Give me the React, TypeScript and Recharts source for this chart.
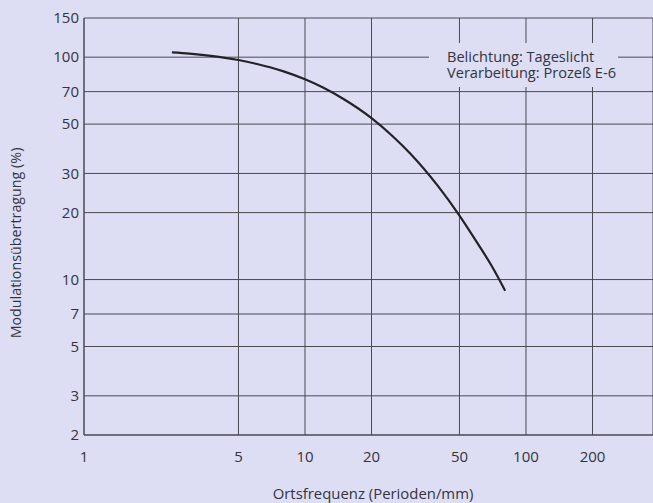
import React from 'react';
import { LineChart, Line, XAxis, YAxis, CartesianGrid } from 'recharts';

const frequencies = [2.5, 3, 4, 5, 6, 8, 10, 12, 15, 20, 25, 30, 40, 50, 60, 70, 80.5];
const modulation = [105, 103.7, 100.6, 97.1, 93.4, 86.3, 79.5, 73.2, 64.7, 53.2, 44.0, 36.8, 26.3, 19.4, 14.7, 11.5, 8.9];

const xTicks = [1, 5, 10, 20, 50, 100, 200];
const yTicks = [2, 3, 5, 7, 10, 20, 30, 50, 70, 100, 150];

const annotationLines = ['Belichtung: Tageslicht', 'Verarbeitung: Prozeß E-6'];

const BG = '#dddef4';
const GRID = '#4a4a52';
const TEXT = '#34343e';
const FONT = '"Open Sans", "Noto Sans", sans-serif';

const data = frequencies.map((f, i) => ({ f, m: modulation[i] }));

export default function App() {
  return (
    <div
      style={{
        position: 'absolute',
        left: 0,
        top: 0,
        width: 653,
        height: 503,
        background: BG,
        overflow: 'hidden',
        fontFamily: FONT,
      }}
    >
      <LineChart width={653} height={503} data={data} margin={{ top: 18, right: 0, bottom: 0, left: 0 }}>
        <CartesianGrid stroke={GRID} strokeWidth={1} />
        <XAxis
          dataKey="f"
          type="number"
          scale="log"
          domain={[1, 375.6]}
          ticks={xTicks}
          allowDataOverflow
          height={68}
          tickLine={false}
          tickSize={0}
          tickMargin={16}
          axisLine={{ stroke: GRID }}
          tick={{ fill: TEXT, fontSize: 15, fontFamily: FONT }}
        />
        <YAxis
          type="number"
          scale="log"
          domain={[2, 150]}
          ticks={yTicks}
          allowDataOverflow
          width={84}
          tickLine={false}
          tickSize={0}
          tickMargin={5}
          axisLine={{ stroke: GRID }}
          tick={{ fill: TEXT, fontSize: 15, fontFamily: FONT }}
        />
        <Line
          type="monotone"
          dataKey="m"
          stroke="#222228"
          strokeWidth={2.2}
          dot={false}
          isAnimationActive={false}
        />
      </LineChart>
      <svg
        width={653}
        height={503}
        style={{ position: 'absolute', left: 0, top: 0, pointerEvents: 'none' }}
      >
        <rect x={429} y={43} width={189} height={44} fill={BG} />
        {annotationLines.map((t, i) => (
          <text key={t} x={447} y={61.5 + i * 16.8} fontSize={14.6} fill={TEXT} fontFamily={FONT}>
            {t}
          </text>
        ))}
        <text x={373} y={499} fontSize={14.9} fill={TEXT} fontFamily={FONT} textAnchor="middle">
          Ortsfrequenz (Perioden/mm)
        </text>
        <text
          x={0}
          y={0}
          fontSize={14.3}
          fill={TEXT}
          fontFamily={FONT}
          textAnchor="middle"
          transform="translate(21,243) rotate(-90)"
        >
          Modulationsübertragung (%)
        </text>
      </svg>
    </div>
  );
}
